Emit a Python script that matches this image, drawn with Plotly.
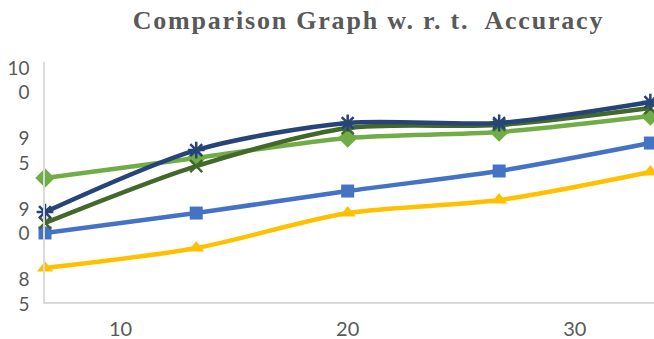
import plotly.graph_objects as go

# Sample positions along the x axis
x_vals = [6.67, 13.33, 20.0, 26.67, 33.33]

# Accuracy (%) of each method
acc_green = [93.78, 95.20, 96.62, 97.04, 98.17]
acc_navy = [91.37, 95.76, 97.68, 97.68, 99.16]
acc_olive = [90.60, 94.63, 97.32, 97.54, 98.74]
acc_blue = [89.89, 91.30, 92.86, 94.28, 96.26]
acc_gold = [87.41, 88.82, 91.30, 92.22, 94.21]

# Axis ticks
x_ticks = [10, 20, 30]
y_ticks = [85, 90, 95, 100]
y_tick_text = ["8<br>5", "9<br>0", "9<br>5", "10<br>0"]

series = [
    (acc_gold, "#FFC000", dict(symbol="triangle-up", size=14)),
    (acc_blue, "#4472C4", dict(symbol="square", size=13)),
    (acc_green, "#70AD47", dict(symbol="diamond", size=15)),
    (acc_olive, "#43682B", dict(symbol="x-thin-open", size=12,
                                line=dict(width=2.5, color="#43682B"))),
    (acc_navy, "#264478", dict(symbol="asterisk-open", size=14,
                               line=dict(width=2.5, color="#264478"))),
]

fig = go.Figure()
for values, color, marker in series:
    marker = dict(marker)
    marker.setdefault("color", color)
    fig.add_trace(go.Scatter(
        x=x_vals, y=values, mode="lines+markers",
        line=dict(color=color, width=4.5, shape="spline", smoothing=0.8),
        marker=marker, cliponaxis=False, showlegend=False,
    ))

fig.update_layout(
    width=654, height=339,
    margin=dict(l=45, r=0, t=62, b=37),
    paper_bgcolor="white", plot_bgcolor="white",
    title=dict(
        text="<span style='letter-spacing:1.8px'>Comparison Graph w. r. t.  Accuracy</span>",
        font=dict(family="Liberation Serif", size=26, color="#595959", weight="bold"),
        xref="container", x=368.5 / 654, xanchor="center",
        yref="container", y=1 - 20 / 339, yanchor="middle",
    ),
)
fig.update_xaxes(
    range=[6.67, 33.49], tickvals=x_ticks, ticks="",
    showgrid=False, zeroline=False, automargin=False,
    showline=True, linecolor="#D9D9D9", linewidth=1.5,
    tickfont=dict(family="Lato", size=20, color="#595959"),
    ticklabelstandoff=8,
)
fig.update_yaxes(
    range=[85, 102], tickvals=y_ticks, ticktext=y_tick_text, ticks="",
    showgrid=False, zeroline=False, automargin=False,
    showline=True, linecolor="#D9D9D9", linewidth=1.5,
    tickfont=dict(family="Lato", size=19, color="#595959"),
    ticklabelstandoff=10, ticklabelshift=-10,
)

fig.write_html("out.html")
